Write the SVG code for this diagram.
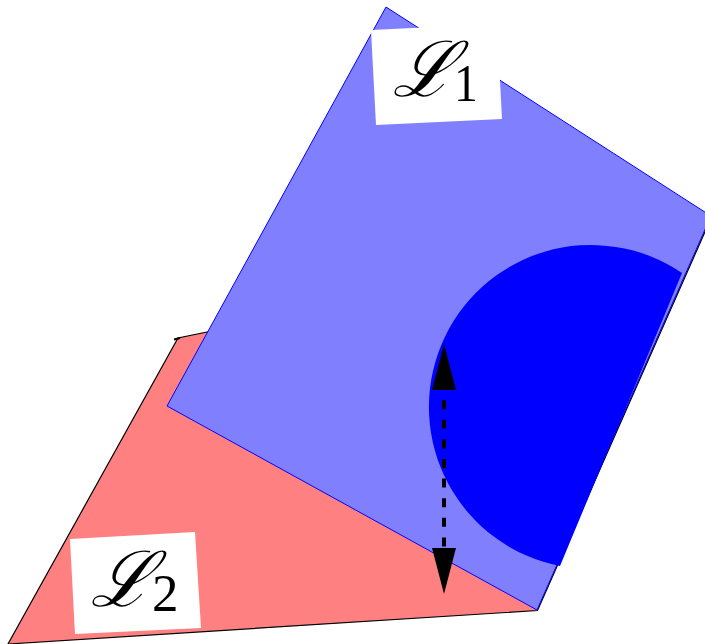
<svg xmlns="http://www.w3.org/2000/svg" width="705" height="644" viewBox="0 0 705 644">
  <defs>
    <style>
      .label { fill: #fff; stroke: none; }
      .script { font-family: "DejaVu Serif", serif; fill: #000; font-size: 64px; }
      .sub { font-family: "Liberation Serif", serif; fill: #000; }
    </style>
    <marker id="tip" markerUnits="userSpaceOnUse" viewBox="0 0 46 24" refX="0" refY="12" markerWidth="46" markerHeight="24" orient="auto-start-reverse">
      <polygon points="0,0 46,12 0,24" fill="#000"/>
    </marker>
  </defs>
  <rect width="705" height="644" fill="#fff"/>
  <g id="plane-L2">
    <polygon points="8,644 537.5,610.5 712,216 207,332 178,338" fill="#ff8080" stroke="#000" stroke-width="1.2"/>
    <path d="M174,339.5 L180,338" fill="none" stroke="#000" stroke-width="2"/>
  </g>
  <g id="plane-L1">
    <polygon points="386,7 711,216 537,610 167,406" fill="#8080ff" stroke="#0000ff" stroke-width="1"/>
    <path d="M682,273 A162,162 0 1 0 560,566 Z" fill="#0000ff"/>
  </g>
  <g id="connectors">
    <path d="M444,390 V548" fill="none" stroke="#000" stroke-width="4" stroke-dasharray="9 10.6" stroke-dashoffset="9.4" marker-start="url(#tip)" marker-end="url(#tip)"/>
  </g>
  <g id="label-L1">
    <polygon class="label" points="371,30 497,24 502,119 376,125"/>
    <text class="script" transform="translate(392,95.5) skewX(-20) scale(1.12,1.2)">ℒ</text>
    <text class="sub" transform="translate(454,101) scale(0.9,1)" font-size="53">1</text>
  </g>
  <g id="label-L2">
    <polygon class="label" points="70,539 195,532 201,628 75,634"/>
    <text class="script" transform="translate(90,605.5) skewX(-20) scale(1.12,1.2)">ℒ</text>
    <text class="sub" x="152" y="611" font-size="53">2</text>
  </g>
</svg>
